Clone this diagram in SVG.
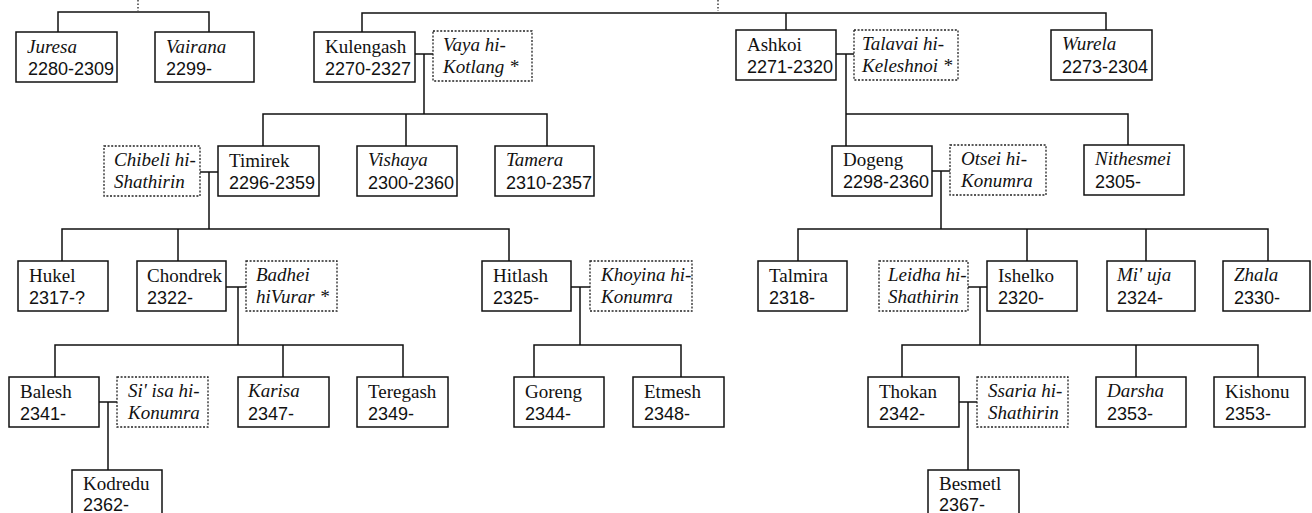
<svg xmlns="http://www.w3.org/2000/svg" width="1312" height="513" viewBox="0 0 1312 513">
<style>
.b{fill:#fff;stroke:#111;stroke-width:1.5}
.s{fill:#fff;stroke:#222;stroke-width:1.3;stroke-dasharray:2 1.6}
.n{font-family:"Liberation Serif","Times New Roman",serif;font-size:19px;fill:#111}
.i{font-family:"Liberation Serif","Times New Roman",serif;font-size:19px;font-style:italic;fill:#111}
.d{font-family:"Liberation Sans",Arial,sans-serif;font-size:18px;fill:#111}
.c{fill:none;stroke:#111;stroke-width:1.5}
.dot{fill:none;stroke:#222;stroke-width:1.3;stroke-dasharray:1.5 2}
</style>
<rect width="1312" height="513" fill="#fff"/>
<g id="connectors">
<path class="dot" d="M138,0V11M718,0V11"/>
<path class="c" d="M58,32V12H209V32"/>
<path class="c" d="M362,32V13H1106V30M786,13V30"/>
<path class="c" d="M415,54H433M424,54V114"/>
<path class="c" d="M263,146V114H547V146M406,114V146"/>
<path class="c" d="M836,54H854M846,54V146M846,114H1128V145"/>
<path class="c" d="M200,172H218M209,172V229"/>
<path class="c" d="M62,261V229H509V261M178,229V261"/>
<path class="c" d="M932,171H950M941,171V229"/>
<path class="c" d="M798,261V229H1268V261M1027,229V261M1146,229V261"/>
<path class="c" d="M226,287H246M238,287V345"/>
<path class="c" d="M55,377V345H403V377M283,345V377"/>
<path class="c" d="M571,287H590M580,287V345"/>
<path class="c" d="M534,377V345H681V377"/>
<path class="c" d="M968,287H987M980,287V345"/>
<path class="c" d="M902,377V345H1258V377M1136,345V377"/>
<path class="c" d="M99,402H117M108,402V470"/>
<path class="c" d="M959,402H977M968,402V470"/>
</g>
<g id="juresa"><rect class="b" x="16" y="32" width="101" height="50"/><text class="i" x="27" y="53">Juresa</text><text class="d" x="28" y="75">2280-2309</text></g>
<g id="vairana"><rect class="b" x="155" y="32" width="99" height="50"/><text class="i" x="166" y="53">Vairana</text><text class="d" x="166" y="75">2299-</text></g>
<g id="kulengash"><rect class="b" x="314" y="32" width="101" height="50"/><text class="n" x="325" y="53">Kulengash</text><text class="d" x="325" y="75">2270-2327</text></g>
<g id="vaya"><rect class="s" x="433" y="31" width="99" height="50"/><text class="i" x="443" y="51">Vaya hi-</text><text class="i" x="443" y="73">Kotlang *</text></g>
<g id="ashkoi"><rect class="b" x="736" y="30" width="100" height="50"/><text class="n" x="747" y="51">Ashkoi</text><text class="d" x="747" y="73">2271-2320</text></g>
<g id="talavai"><rect class="s" x="854" y="30" width="104" height="50"/><text class="i" x="862" y="50">Talavai hi-</text><text class="i" x="862" y="72">Keleshnoi *</text></g>
<g id="wurela"><rect class="b" x="1051" y="30" width="101" height="50"/><text class="i" x="1062" y="50">Wurela</text><text class="d" x="1062" y="73">2273-2304</text></g>
<g id="chibeli"><rect class="s" x="104" y="146" width="96" height="50"/><text class="i" x="114" y="166">Chibeli hi-</text><text class="i" x="114" y="188">Shathirin</text></g>
<g id="timirek"><rect class="b" x="218" y="146" width="101" height="50"/><text class="n" x="229" y="167">Timirek</text><text class="d" x="229" y="189">2296-2359</text></g>
<g id="vishaya"><rect class="b" x="357" y="146" width="100" height="50"/><text class="i" x="368" y="166">Vishaya</text><text class="d" x="368" y="189">2300-2360</text></g>
<g id="tamera"><rect class="b" x="495" y="146" width="99" height="50"/><text class="i" x="506" y="166">Tamera</text><text class="d" x="506" y="189">2310-2357</text></g>
<g id="dogeng"><rect class="b" x="832" y="146" width="100" height="50"/><text class="n" x="843" y="166">Dogeng</text><text class="d" x="843" y="188">2298-2360</text></g>
<g id="otsei"><rect class="s" x="950" y="145" width="96" height="50"/><text class="i" x="961" y="165">Otsei hi-</text><text class="i" x="961" y="187">Konumra</text></g>
<g id="nithesmei"><rect class="b" x="1084" y="145" width="100" height="50"/><text class="i" x="1095" y="165">Nithesmei</text><text class="d" x="1095" y="188">2305-</text></g>
<g id="hukel"><rect class="b" x="18" y="261" width="90" height="50"/><text class="n" x="29" y="282">Hukel</text><text class="d" x="29" y="304">2317-?</text></g>
<g id="chondrek"><rect class="b" x="137" y="261" width="89" height="50"/><text class="n" x="147" y="282">Chondrek</text><text class="d" x="147" y="304">2322-</text></g>
<g id="badhei"><rect class="s" x="246" y="261" width="91" height="50"/><text class="i" x="256" y="281">Badhei</text><text class="i" x="256" y="303">hiVurar *</text></g>
<g id="hitlash"><rect class="b" x="482" y="261" width="89" height="50"/><text class="n" x="493" y="282">Hitlash</text><text class="d" x="493" y="304">2325-</text></g>
<g id="khoyina"><rect class="s" x="590" y="261" width="102" height="50"/><text class="i" x="601" y="281">Khoyina hi-</text><text class="i" x="601" y="303">Konumra</text></g>
<g id="talmira"><rect class="b" x="758" y="261" width="89" height="50"/><text class="n" x="769" y="282">Talmira</text><text class="d" x="769" y="304">2318-</text></g>
<g id="leidha"><rect class="s" x="879" y="261" width="89" height="50"/><text class="i" x="888" y="281">Leidha hi-</text><text class="i" x="888" y="303">Shathirin</text></g>
<g id="ishelko"><rect class="b" x="987" y="261" width="90" height="50"/><text class="n" x="998" y="282">Ishelko</text><text class="d" x="998" y="304">2320-</text></g>
<g id="miuja"><rect class="b" x="1107" y="261" width="88" height="50"/><text class="i" x="1117" y="281">Mi' uja</text><text class="d" x="1117" y="304">2324-</text></g>
<g id="zhala"><rect class="b" x="1223" y="261" width="87" height="50"/><text class="i" x="1234" y="281">Zhala</text><text class="d" x="1234" y="304">2330-</text></g>
<g id="balesh"><rect class="b" x="9" y="377" width="90" height="50"/><text class="n" x="20" y="398">Balesh</text><text class="d" x="20" y="420">2341-</text></g>
<g id="siisa"><rect class="s" x="117" y="377" width="91" height="50"/><text class="i" x="128" y="397">Si' isa hi-</text><text class="i" x="128" y="419">Konumra</text></g>
<g id="karisa"><rect class="b" x="238" y="377" width="91" height="50"/><text class="i" x="248" y="397">Karisa</text><text class="d" x="248" y="420">2347-</text></g>
<g id="teregash"><rect class="b" x="357" y="377" width="91" height="50"/><text class="n" x="368" y="398">Teregash</text><text class="d" x="368" y="420">2349-</text></g>
<g id="goreng"><rect class="b" x="514" y="377" width="90" height="50"/><text class="n" x="525" y="398">Goreng</text><text class="d" x="525" y="420">2344-</text></g>
<g id="etmesh"><rect class="b" x="633" y="377" width="91" height="50"/><text class="n" x="644" y="398">Etmesh</text><text class="d" x="644" y="420">2348-</text></g>
<g id="thokan"><rect class="b" x="868" y="377" width="91" height="50"/><text class="n" x="879" y="398">Thokan</text><text class="d" x="879" y="420">2342-</text></g>
<g id="ssaria"><rect class="s" x="977" y="377" width="91" height="50"/><text class="i" x="988" y="397">Ssaria hi-</text><text class="i" x="988" y="419">Shathirin</text></g>
<g id="darsha"><rect class="b" x="1096" y="377" width="90" height="50"/><text class="i" x="1107" y="397">Darsha</text><text class="d" x="1107" y="420">2353-</text></g>
<g id="kishonu"><rect class="b" x="1214" y="377" width="91" height="50"/><text class="n" x="1225" y="398">Kishonu</text><text class="d" x="1225" y="420">2353-</text></g>
<g id="kodredu"><rect class="b" x="72" y="470" width="90" height="52"/><text class="n" x="83" y="490">Kodredu</text><text class="d" x="83" y="511">2362-</text></g>
<g id="besmetl"><rect class="b" x="928" y="470" width="91" height="52"/><text class="n" x="939" y="490">Besmetl</text><text class="d" x="939" y="511">2367-</text></g>
</svg>
